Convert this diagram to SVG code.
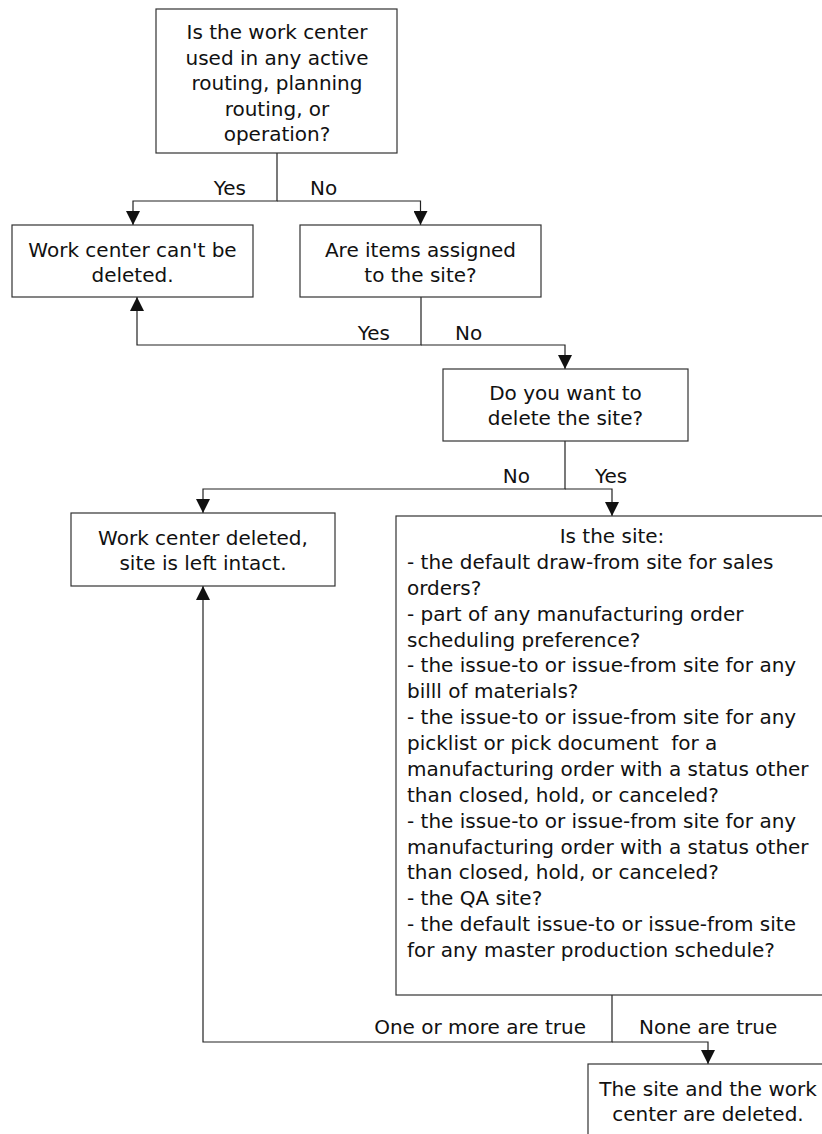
<svg xmlns="http://www.w3.org/2000/svg" width="822" height="1134" viewBox="0 0 822 1134">
<style>
  .box { fill: #ffffff; stroke: #333333; stroke-width: 1.2; }
  .t { font-family: "DejaVu Sans", "Liberation Sans", sans-serif; font-size: 20px; fill: #111111; }
  .c { text-anchor: middle; }
  .e { text-anchor: end; }
  .conn { fill: none; stroke: #222222; stroke-width: 1.2; }
</style>
<defs>
  <marker id="arr" markerUnits="userSpaceOnUse" markerWidth="14" markerHeight="14" refX="14" refY="7" orient="auto">
    <path d="M0,0 L14,7 L0,14 z" fill="#111111"/>
  </marker>
</defs>
<rect width="822" height="1134" fill="#ffffff"/>

<g id="connectors">
  <path class="conn" d="M277,153 V201 H133 V225" marker-end="url(#arr)"/>
  <path class="conn" d="M277,201 H420.5 V225" marker-end="url(#arr)"/>
  <path class="conn" d="M421,297 V345 H137 V297" marker-end="url(#arr)"/>
  <path class="conn" d="M421,345 H565 V369" marker-end="url(#arr)"/>
  <path class="conn" d="M565,441 V489 H203 V513" marker-end="url(#arr)"/>
  <path class="conn" d="M565,489 H612 V516" marker-end="url(#arr)"/>
  <path class="conn" d="M612,995 V1042 H203 V586" marker-end="url(#arr)"/>
  <path class="conn" d="M612,1042 H708 V1064" marker-end="url(#arr)"/>
  <text class="t e" x="246" y="195">Yes</text>
  <text class="t" x="310" y="195">No</text>
  <text class="t e" x="390" y="340">Yes</text>
  <text class="t" x="455" y="340">No</text>
  <text class="t e" x="530" y="483">No</text>
  <text class="t" x="595" y="483">Yes</text>
  <text class="t e" x="586" y="1034">One or more are true</text>
  <text class="t" x="639" y="1034">None are true</text>
</g>

<g id="n1">
  <rect class="box" x="156" y="9" width="241" height="144"/>
  <text class="t c" x="277" y="39">Is the work center</text>
  <text class="t c" x="277" y="65">used in any active</text>
  <text class="t c" x="277" y="90">routing, planning</text>
  <text class="t c" x="277" y="116">routing, or</text>
  <text class="t c" x="277" y="141">operation?</text>
</g>

<g id="n2">
  <rect class="box" x="12" y="225" width="241" height="72"/>
  <text class="t c" x="132.5" y="257">Work center can't be</text>
  <text class="t c" x="132.5" y="282">deleted.</text>
</g>

<g id="n3">
  <rect class="box" x="300" y="225" width="241" height="72"/>
  <text class="t c" x="420.5" y="257">Are items assigned</text>
  <text class="t c" x="420.5" y="282">to the site?</text>
</g>

<g id="n4">
  <rect class="box" x="443" y="369" width="245" height="72"/>
  <text class="t c" x="565.5" y="400">Do you want to</text>
  <text class="t c" x="565.5" y="425">delete the site?</text>
</g>

<g id="n5">
  <rect class="box" x="71" y="513" width="264" height="73"/>
  <text class="t c" x="203" y="545">Work center deleted,</text>
  <text class="t c" x="203" y="570">site is left intact.</text>
</g>

<g id="n6">
  <rect class="box" x="396" y="516" width="432" height="479"/>
  <text class="t c" x="612" y="543">Is the site:</text>
  <text class="t" x="407" y="569">- the default draw-from site for sales</text>
  <text class="t" x="407" y="595">orders?</text>
  <text class="t" x="407" y="621">- part of any manufacturing order</text>
  <text class="t" x="407" y="647">scheduling preference?</text>
  <text class="t" x="407" y="672">- the issue-to or issue-from site for any</text>
  <text class="t" x="407" y="698">billl of materials?</text>
  <text class="t" x="407" y="724">- the issue-to or issue-from site for any</text>
  <text class="t" x="407" y="750" xml:space="preserve">picklist or pick document  for a</text>
  <text class="t" x="407" y="776">manufacturing order with a status other</text>
  <text class="t" x="407" y="802">than closed, hold, or canceled?</text>
  <text class="t" x="407" y="828">- the issue-to or issue-from site for any</text>
  <text class="t" x="407" y="854">manufacturing order with a status other</text>
  <text class="t" x="407" y="879">than closed, hold, or canceled?</text>
  <text class="t" x="407" y="905">- the QA site?</text>
  <text class="t" x="407" y="931">- the default issue-to or issue-from site</text>
  <text class="t" x="407" y="957">for any master production schedule?</text>
</g>

<g id="n7">
  <rect class="box" x="588" y="1064" width="240" height="90"/>
  <text class="t c" x="708" y="1096">The site and the work</text>
  <text class="t c" x="708" y="1121">center are deleted.</text>
</g>
</svg>
